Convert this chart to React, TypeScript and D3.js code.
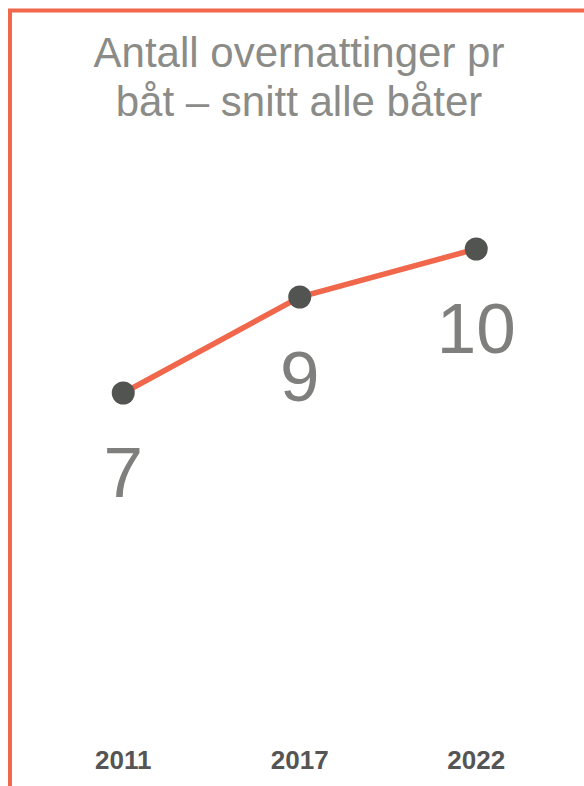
import * as d3 from 'd3';
import { useEffect, useRef } from 'react';

const width = 584;
const height = 786;

const YEARS = ['2011', '2017', '2022'];
const NIGHTS = [7, 9, 10];
const TITLE_LINES = ['Antall overnattinger pr', 'båt – snitt alle båter'];

const ORANGE = '#f1674b';
const DOT = '#525451';

const App: React.FC = () => {
    const svgRef = useRef<SVGSVGElement | null>(null);

    useEffect(() => {
        if (!svgRef.current) return;
        const svg = d3.select(svgRef.current);
        svg.selectAll('*').remove();

        const xScale = d3.scaleBand<string>().domain(YEARS).range([35, 564.5]);
        const yScale = d3.scaleLinear().domain([0, 12]).range([729, 153]);
        const cx = (d: string) => xScale(d)! + xScale.bandwidth() / 2;

        // Frame (left + top edges)
        svg.append('path')
            .attr('d', `M10,${height}V10.5H${width}`)
            .attr('fill', 'none')
            .attr('stroke', ORANGE)
            .attr('stroke-width', 4);

        // Title
        svg.append('text')
            .attr('text-anchor', 'middle')
            .attr('fill', '#8b8b88')
            .style('font-family', '"Liberation Sans", Arial, sans-serif')
            .style('font-size', '42px')
            .selectAll('tspan')
            .data(TITLE_LINES)
            .join('tspan')
            .attr('x', 299)
            .attr('y', (_, i) => 67 + i * 49)
            .text((d) => d);

        const points = YEARS.map((y, i) => ({ year: y, value: NIGHTS[i] }));

        const line = d3
            .line<{ year: string; value: number }>()
            .x((d) => cx(d.year))
            .y((d) => yScale(d.value));

        svg.append('path')
            .datum(points)
            .attr('d', line)
            .attr('fill', 'none')
            .attr('stroke', ORANGE)
            .attr('stroke-width', 5.5);

        svg.append('g')
            .selectAll('circle')
            .data(points)
            .join('circle')
            .attr('cx', (d) => cx(d.year))
            .attr('cy', (d) => yScale(d.value))
            .attr('r', 11.5)
            .attr('fill', DOT);

        // Value labels
        svg.append('g')
            .selectAll('text')
            .data(points)
            .join('text')
            .attr('x', (d) => cx(d.year))
            .attr('y', (d) => yScale(d.value) + 104)
            .attr('text-anchor', 'middle')
            .attr('fill', '#7f7f7d')
            .style('font-family', '"Liberation Sans", Arial, sans-serif')
            .style('font-size', '71px')
            .text((d) => d.value);

        // Category labels
        svg.append('g')
            .selectAll('text')
            .data(YEARS)
            .join('text')
            .attr('x', (d) => cx(d))
            .attr('y', 769)
            .attr('text-anchor', 'middle')
            .attr('fill', '#555555')
            .style('font-family', '"Liberation Sans", Arial, sans-serif')
            .style('font-weight', 'bold')
            .style('font-size', '26px')
            .text((d) => d);
    }, []);

    return (
        <svg
            ref={svgRef}
            width={width}
            height={height}
            style={{ position: 'absolute', left: 0, top: 0, display: 'block', background: '#fff' }}
        ></svg>
    );
};

export default App;
